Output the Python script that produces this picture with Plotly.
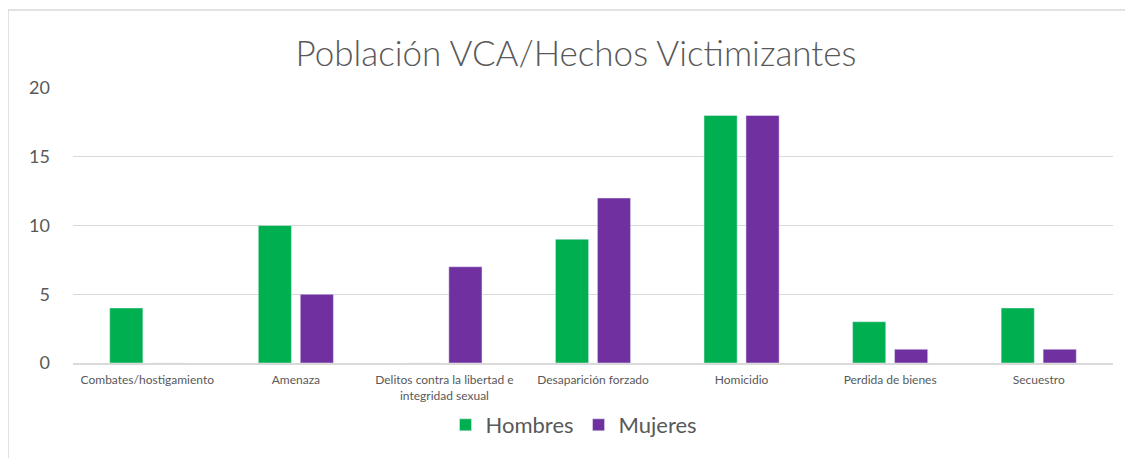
import plotly.graph_objects as go

categories = [
    "Combates/hostigamiento",
    "Amenaza",
    "Delitos contra la libertad e<br>integridad sexual",
    "Desaparición forzado",
    "Homicidio",
    "Perdida de bienes",
    "Secuestro",
]
hombres = [4, 10, 0, 9, 18, 3, 4]
mujeres = [0, 5, 7, 12, 18, 1, 1]
y_ticks = [0, 5, 10, 15, 20]

FONT = "Lato, 'Open Sans', sans-serif"
TXT = "#595959"
W, H = 1125, 450

fig = go.Figure()
fig.add_trace(go.Bar(name="Hombres", x=categories, y=hombres, marker_color="#00B050"))
fig.add_trace(go.Bar(name="Mujeres", x=categories, y=mujeres, marker_color="#7030A0"))

fig.update_layout(
    width=W, height=H,
    paper_bgcolor="white", plot_bgcolor="white",
    margin=dict(l=65, r=20, t=80, b=95),
    barmode="group", bargap=0.435, bargroupgap=0.21,
    title=dict(text="Población VCA/Hechos Victimizantes", x=568 / W, xanchor="center",
               y=1 - 46 / H, yanchor="middle", yref="container",
               font=dict(family=FONT, size=35, color=TXT, weight=300)),
    legend=dict(orientation="h", x=566 / W, xanchor="center", xref="container",
                y=1 - 417 / H, yanchor="middle", yref="container",
                font=dict(family=FONT, size=22, color=TXT), itemwidth=30,
                traceorder="normal"),
    font=dict(family=FONT, color=TXT),
    shapes=[dict(type="rect", xref="paper", yref="paper",
                 x0=(0 - 65) / 1040, x1=1.2, y0=-0.5, y1=1 + (80 - 2) / 275,
                 line=dict(color="#d9d9d9", width=1.5), fillcolor="rgba(0,0,0,0)",
                 layer="below")],
)
fig.update_yaxes(range=[0, 20], tickvals=y_ticks, showgrid=True, gridcolor="#d9d9d9",
                 gridwidth=1, zeroline=False, showline=False, automargin=False,
                 tickfont=dict(family=FONT, size=18, color=TXT), ticklabelstandoff=22)
fig.update_xaxes(showline=True, linecolor="#d9d9d9", linewidth=1.5, ticks="",
                 automargin=False, tickangle=0, ticklabelstandoff=5,
                 tickfont=dict(family=FONT, size=12, color=TXT))

fig.write_html("out.html")
